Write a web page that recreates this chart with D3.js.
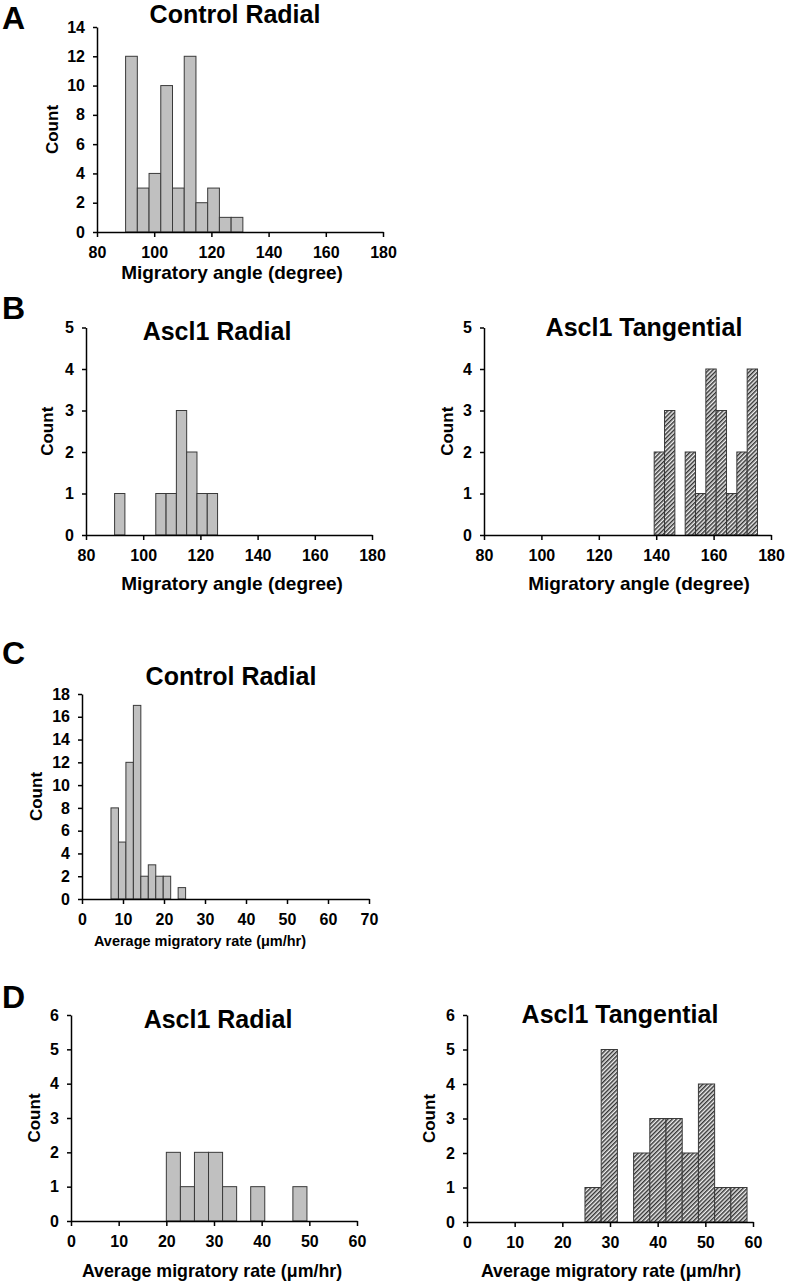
<!DOCTYPE html>
<html>
<head>
<meta charset="utf-8">
<script src="https://cdn.jsdelivr.net/npm/d3@7"></script>
<style>
  body { margin: 0; background: #fff; }
  svg { display: block; }
  text { font-family: "Liberation Sans", Arial, sans-serif; font-weight: bold; fill: #000; }
</style>
</head>
<body>
<svg id="chart" width="787" height="1284"></svg>
<script>
// ---------- DATA ----------
const angleTicks = [80, 100, 120, 140, 160, 180];
const rateTicksC = [0, 10, 20, 30, 40, 50, 60, 70];
const rateTicksD = [0, 10, 20, 30, 40, 50, 60];
const countTicksA = [0, 2, 4, 6, 8, 10, 12, 14];
const countTicksB = [0, 1, 2, 3, 4, 5];
const countTicksC = [0, 2, 4, 6, 8, 10, 12, 14, 16, 18];
const countTicksD = [0, 1, 2, 3, 4, 5, 6];

// Histogram bins: start of first bin, bin width, counts per bin
const ctrlAngleStart = 90,     ctrlAngleWidth = 4.1;
const ctrlAngleCounts = [12, 3, 4, 10, 3, 12, 2, 3, 1, 1];

const asclRadAngleStart = 90,  asclRadAngleWidth = 3.6;
const asclRadAngleCounts = [1, 0, 0, 0, 1, 1, 3, 2, 1, 1];

const asclTanAngleStart = 139.3, asclTanAngleWidth = 3.6;
const asclTanAngleCounts = [2, 3, 0, 2, 1, 4, 3, 1, 2, 4];

const ctrlRateStart = 7.07,    ctrlRateWidth = 1.82;
const ctrlRateCounts = [8, 5, 12, 17, 2, 3, 2, 2, 0, 1];

const asclRadRateStart = 20,   asclRadRateWidth = 2.95;
const asclRadRateCounts = [2, 1, 2, 2, 1, 0, 1, 0, 0, 1];

const asclTanRateStart = 24.75, asclTanRateWidth = 3.4;
const asclTanRateCounts = [1, 5, 0, 2, 3, 3, 2, 4, 1, 1];

const titles = ["Control Radial", "Ascl1 Radial", "Ascl1 Tangential", "Control Radial", "Ascl1 Radial", "Ascl1 Tangential"];
const angleLabel = "Migratory angle (degree)";
const rateLabel = "Average migratory rate (\u03bcm/hr)";

// ---------- LAYOUT ----------
const svg = d3.select("#chart");
const defs = svg.append("defs");
const pat = defs.append("pattern")
  .attr("id", "hatch")
  .attr("patternUnits", "userSpaceOnUse")
  .attr("width", 3).attr("height", 3)
  .attr("patternTransform", "rotate(45)");
pat.append("rect").attr("width", 3).attr("height", 3).attr("fill", "#eeeeee");
pat.append("line").attr("x1", 0.75).attr("y1", 0).attr("x2", 0.75).attr("y2", 3)
  .attr("stroke", "#2a2a2a").attr("stroke-width", 1.4);

const panels = [
  { start: ctrlAngleStart, width: ctrlAngleWidth, counts: ctrlAngleCounts, xDomain: [80, 180], xTicks: angleTicks, yTicks: countTicksA,
    left: 97, right: 383, top: 27, bottom: 232, title: titles[0], tx: 235, ty: 23, fill: "#c0c0c0",
    xlabel: angleLabel, xlx: 232, xly: 279, xlSize: 19, ylx: 58 },
  { start: asclRadAngleStart, width: asclRadAngleWidth, counts: asclRadAngleCounts, xDomain: [80, 180], xTicks: angleTicks, yTicks: countTicksB,
    left: 86, right: 372, top: 327.5, bottom: 535, title: titles[1], tx: 217, ty: 340, fill: "#c0c0c0",
    xlabel: angleLabel, xlx: 232, xly: 590, xlSize: 19, ylx: 53 },
  { start: asclTanAngleStart, width: asclTanAngleWidth, counts: asclTanAngleCounts, xDomain: [80, 180], xTicks: angleTicks, yTicks: countTicksB,
    left: 484, right: 771, top: 327.5, bottom: 535, title: titles[2], tx: 644, ty: 336, fill: "url(#hatch)",
    xlabel: angleLabel, xlx: 639, xly: 590, xlSize: 19, ylx: 453 },
  { start: ctrlRateStart, width: ctrlRateWidth, counts: ctrlRateCounts, xDomain: [0, 70], xTicks: rateTicksC, yTicks: countTicksC,
    left: 82, right: 369, top: 694, bottom: 899, title: titles[3], tx: 231, ty: 685, fill: "#c0c0c0",
    xlabel: rateLabel, xlx: 200, xly: 946, xlSize: 14.5, ylx: 42 },
  { start: asclRadRateStart, width: asclRadRateWidth, counts: asclRadRateCounts, xDomain: [0, 60], xTicks: rateTicksD, yTicks: countTicksD,
    left: 71, right: 357, top: 1015, bottom: 1221, title: titles[4], tx: 218, ty: 1028, fill: "#c0c0c0",
    xlabel: rateLabel, xlx: 212, xly: 1277, xlSize: 17.8, ylx: 40 },
  { start: asclTanRateStart, width: asclTanRateWidth, counts: asclTanRateCounts, xDomain: [0, 60], xTicks: rateTicksD, yTicks: countTicksD,
    left: 467, right: 753, top: 1015, bottom: 1222, title: titles[5], tx: 620, ty: 1023, fill: "url(#hatch)",
    xlabel: rateLabel, xlx: 611, xly: 1277, xlSize: 17.8, ylx: 435 }
];

panels.forEach(p => {
  const x = d3.scaleLinear().domain(p.xDomain).range([p.left, p.right]);
  const yMax = p.yTicks[p.yTicks.length - 1];
  const y = d3.scaleLinear().domain([0, yMax]).range([p.bottom, p.top]);
  const g = svg.append("g");

  const bins = p.counts.map((c, i) => ({ x0: p.start + i * p.width, x1: p.start + (i + 1) * p.width, c }))
    .filter(d => d.c > 0);

  g.selectAll("rect.bar").data(bins).join("rect")
    .attr("class", "bar")
    .attr("x", d => x(d.x0))
    .attr("width", d => x(d.x1) - x(d.x0))
    .attr("y", d => y(d.c))
    .attr("height", d => y(0) - y(d.c))
    .attr("fill", p.fill)
    .attr("stroke", "#3a3a3a")
    .attr("stroke-width", 1);

  const fmt = d3.format("d");
  const xAxis = g.append("g").attr("transform", `translate(0,${p.bottom})`)
    .call(d3.axisBottom(x).tickValues(p.xTicks).tickFormat(fmt).tickSize(5).tickSizeOuter(0).tickPadding(10));
  const yAxis = g.append("g").attr("transform", `translate(${p.left},0)`)
    .call(d3.axisLeft(y).tickValues(p.yTicks).tickFormat(fmt).tickSize(4).tickSizeOuter(0).tickPadding(8));

  [xAxis, yAxis].forEach(a => {
    a.select(".domain").attr("stroke", "#000").attr("stroke-width", 1.5);
    a.selectAll(".tick line").attr("stroke", "#000").attr("stroke-width", 1.5);
    a.selectAll(".tick text").attr("font-size", 16).attr("font-family", "Liberation Sans, Arial, sans-serif")
      .attr("font-weight", "bold").attr("fill", "#000");
  });

  g.append("text").attr("x", p.tx).attr("y", p.ty).attr("text-anchor", "middle")
    .attr("font-size", 25).text(p.title);

  g.append("text").attr("x", p.xlx).attr("y", p.xly).attr("text-anchor", "middle")
    .attr("font-size", p.xlSize).text(p.xlabel);

  g.append("text").attr("transform", `translate(${p.ylx},${(p.top + p.bottom) / 2}) rotate(-90)`)
    .attr("text-anchor", "middle").attr("font-size", 17).text("Count");
});

const letters = [["A", 29], ["B", 319], ["C", 664], ["D", 1008]];
svg.selectAll("text.letter").data(letters).join("text")
  .attr("class", "letter")
  .attr("x", 2).attr("y", d => d[1])
  .attr("font-size", 32).text(d => d[0]);
</script>
</body>
</html>
